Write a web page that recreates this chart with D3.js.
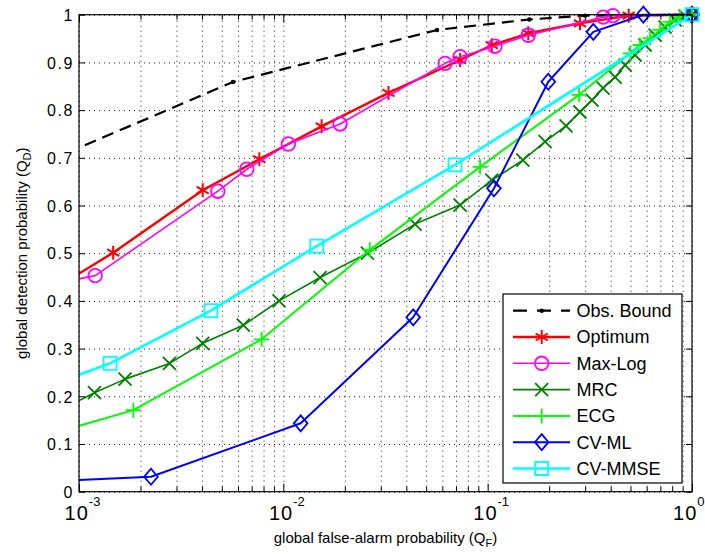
<!DOCTYPE html>
<html>
<head>
<meta charset="utf-8">
<script src="https://cdn.jsdelivr.net/npm/d3@7"></script>
<style>
  html, body { margin: 0; padding: 0; background: #fff; }
  svg { display: block; }
  text { font-family: "Liberation Sans", Arial, sans-serif; fill: #000; }
</style>
</head>
<body>
<svg id="chart" width="705" height="554"></svg>
<script>
// ---------------- data ----------------
const xDecades = [1e-3, 1e-2, 1e-1, 1];
const xExponents = ["-3", "-2", "-1", "0"];
const yTickValues = [0, 0.1, 0.2, 0.3, 0.4, 0.5, 0.6, 0.7, 0.8, 0.9, 1];
const yTickLabels = ["0", "0.1", "0.2", "0.3", "0.4", "0.5", "0.6", "0.7", "0.8", "0.9", "1"];

const seriesNames = ["Obs. Bound", "Optimum", "Max-Log", "MRC", "ECG", "CV-ML", "CV-MMSE"];

const obsQF = [0.00072, 0.00567, 0.0565, 0.16, 0.3, 1];
const obsQD = [0.695, 0.859, 0.968, 0.990, 0.998, 1];

const optQF = [0.00072, 0.00147, 0.00403, 0.00763, 0.0154, 0.0327, 0.0733, 0.1047, 0.158, 0.283, 0.49, 1];
const optQD = [0.420, 0.501, 0.632, 0.697, 0.766, 0.836, 0.905, 0.936, 0.961, 0.982, 0.998, 1];

const maxlogQF = [0.00085, 0.0012, 0.00478, 0.00662, 0.01058, 0.01895, 0.0619, 0.0733, 0.1086, 0.158, 0.368, 0.41, 1];
const maxlogQD = [0.440, 0.453, 0.630, 0.676, 0.729, 0.771, 0.898, 0.912, 0.934, 0.957, 0.995, 0.998, 1];

const mrcQF = [0.0008, 0.00119, 0.00168, 0.00277, 0.00403, 0.00637, 0.00953, 0.01513, 0.0258, 0.0441, 0.0733, 0.1047, 0.1487, 0.191, 0.2418, 0.2826, 0.3243, 0.3672, 0.4205, 0.4707, 0.5267, 0.5894, 0.6597, 0.7383, 0.8264, 0.9252, 1];
const mrcQD = [0.170, 0.2075, 0.236, 0.269, 0.311, 0.349, 0.400, 0.449, 0.500, 0.561, 0.601, 0.653, 0.695, 0.734, 0.767, 0.796, 0.821, 0.846, 0.869, 0.8945, 0.9155, 0.9365, 0.957, 0.974, 0.989, 0.997, 1];

const ecgQF = [0.0008, 0.001845, 0.00783, 0.0265, 0.0918, 0.28, 0.498, 0.557, 0.624, 0.698, 0.781, 0.873, 1];
const ecgQD = [0.126, 0.171, 0.3195, 0.507, 0.681, 0.832, 0.919, 0.9365, 0.951, 0.968, 0.985, 0.995, 1];

const cvmlQF = [0.0008, 0.00225, 0.01216, 0.0432, 0.1074, 0.198, 0.329, 0.578, 1];
const cvmlQD = [0.0226, 0.0314, 0.1434, 0.3656, 0.636, 0.8595, 0.964, 1.0, 1.0];

const cvmmseQF = [0.0008, 0.00142, 0.00442, 0.01457, 0.0692, 1];
const cvmmseQD = [0.230, 0.269, 0.3795, 0.515, 0.685, 1];

// ---------------- layout / styles ----------------
const svg = d3.select("#chart");
const L = 79, R = 692, T = 14.7, B = 491.7;

const x = d3.scaleLog().domain([1e-3, 1]).range([L, R]);
const y = d3.scaleLinear().domain([0, 1]).range([B, T]);

const styles = [
  { qf: obsQF, qd: obsQD, color: "#000000", width: 2.2, dash: "12,7", marker: "dot" },
  { qf: optQF, qd: optQD, color: "#ff0000", width: 2.4, dash: null, marker: "star" },
  { qf: maxlogQF, qd: maxlogQD, color: "#ff00ff", width: 1.6, dash: null, marker: "circle" },
  { qf: mrcQF, qd: mrcQD, color: "#008000", width: 1.6, dash: null, marker: "x" },
  { qf: ecgQF, qd: ecgQD, color: "#00ff00", width: 2, dash: null, marker: "plus" },
  { qf: cvmlQF, qd: cvmlQD, color: "#0000ff", width: 2, dash: null, marker: "diamond" },
  { qf: cvmmseQF, qd: cvmmseQD, color: "#00ffff", width: 2.6, dash: null, marker: "square" }
];

const markerPaths = {
  dot: null,
  star: (() => { const r = 7, a = r * Math.cos(Math.PI / 6), b = r * 0.5;
    return `M0,${-r}L0,${r}M${-a},${-b}L${a},${b}M${-a},${b}L${a},${-b}`; })(),
  circle: null,
  x: "M-6.5,-6.5L6.5,6.5M-6.5,6.5L6.5,-6.5",
  plus: "M-7.5,0L7.5,0M0,-7.5L0,7.5",
  diamond: "M0,-8L6.8,0L0,8L-6.8,0Z",
  square: "M-6.5,-6.5L6.5,-6.5L6.5,6.5L-6.5,6.5Z"
};

function drawMarker(g, type, color, cx, cy) {
  if (type === "dot") {
    g.append("circle").attr("cx", cx).attr("cy", cy).attr("r", 2.2).attr("fill", color);
  } else if (type === "circle") {
    g.append("circle").attr("cx", cx).attr("cy", cy).attr("r", 6.8)
      .attr("fill", "none").attr("stroke", color).attr("stroke-width", 1.8);
  } else {
    g.append("path").attr("d", markerPaths[type]).attr("transform", `translate(${cx},${cy})`)
      .attr("fill", "none").attr("stroke", color).attr("stroke-width", type === "star" ? 2 : 1.8);
  }
}

// clip
svg.append("defs").append("clipPath").attr("id", "plotclip")
  .append("rect").attr("x", L).attr("y", T - 2).attr("width", R - L).attr("height", B - T + 2);

svg.append("rect").attr("x", L).attr("y", T).attr("width", R - L).attr("height", B - T).attr("fill", "#fff");

// ---------------- grid ----------------
const minorTicks = [];
for (let e = -3; e < 0; e++) for (let k = 2; k <= 9; k++) minorTicks.push(k * Math.pow(10, e));
const allXGrid = xDecades.concat(minorTicks);

const grid = svg.append("g").attr("class", "grid");
grid.append("g").attr("transform", `translate(0,${B})`)
  .call(d3.axisBottom(x).tickValues(allXGrid).tickSize(-(B - T)).tickFormat(""))
  .call(g => g.select(".domain").remove())
  .call(g => g.selectAll("line").attr("stroke", "#222").attr("stroke-dasharray", "1,4").attr("stroke-width", 1));
grid.append("g").attr("transform", `translate(${L},0)`)
  .call(d3.axisLeft(y).tickValues(yTickValues).tickSize(-(R - L)).tickFormat(""))
  .call(g => g.select(".domain").remove())
  .call(g => g.selectAll("line").attr("stroke", "#222").attr("stroke-dasharray", "1,4").attr("stroke-width", 1));

// ---------------- series ----------------
const line = d3.line().x(d => x(d[0])).y(d => y(d[1]));
const plotG = svg.append("g");
styles.forEach(s => {
  const pts = s.qf.map((q, i) => [q, s.qd[i]]);
  plotG.append("path").datum(pts).attr("d", line).attr("clip-path", "url(#plotclip)")
    .attr("fill", "none").attr("stroke", s.color).attr("stroke-width", s.width)
    .attr("stroke-dasharray", s.dash).attr("stroke-linejoin", "round");
  const mg = plotG.append("g");
  const show = s.marker === "dot" ? pts.slice(1, -1) : pts.filter(p => p[0] >= 1e-3);
  show.forEach(p => drawMarker(mg, s.marker, s.color, x(p[0]), y(p[1])));
});

// ---------------- axes box & ticks ----------------
const axG = svg.append("g");
axG.append("rect").attr("x", L).attr("y", T).attr("width", R - L).attr("height", B - T)
  .attr("fill", "none").attr("stroke", "#000").attr("stroke-width", 1.2);

axG.append("g").attr("transform", `translate(0,${B})`)
  .call(d3.axisBottom(x).tickValues(xDecades).tickSize(-8).tickFormat(""))
  .call(g => g.select(".domain").remove());
axG.append("g").attr("transform", `translate(0,${B})`)
  .call(d3.axisBottom(x).tickValues(minorTicks).tickSize(-5).tickFormat(""))
  .call(g => g.select(".domain").remove());
axG.append("g").attr("transform", `translate(0,${T})`)
  .call(d3.axisTop(x).tickValues(xDecades).tickSize(-8).tickFormat(""))
  .call(g => g.select(".domain").remove());
axG.append("g").attr("transform", `translate(0,${T})`)
  .call(d3.axisTop(x).tickValues(minorTicks).tickSize(-5).tickFormat(""))
  .call(g => g.select(".domain").remove());
axG.append("g").attr("transform", `translate(${L},0)`)
  .call(d3.axisLeft(y).tickValues(yTickValues).tickSize(-6).tickFormat(""))
  .call(g => g.select(".domain").remove());
axG.append("g").attr("transform", `translate(${R},0)`)
  .call(d3.axisRight(y).tickValues(yTickValues).tickSize(-6).tickFormat(""))
  .call(g => g.select(".domain").remove());
axG.selectAll(".tick line").attr("stroke", "#000").attr("stroke-width", 1);

// y tick labels
const yLab = svg.append("g").attr("transform", `translate(${L},0)`)
  .call(d3.axisLeft(y).tickValues(yTickValues).tickSize(0).tickPadding(5)
    .tickFormat((d, i) => yTickLabels[i]));
yLab.select(".domain").remove();
yLab.selectAll("text").attr("font-size", 16).attr("letter-spacing", "1.6px")
  .attr("font-family", "Liberation Sans, Arial, sans-serif").attr("fill", "#000")
  .attr("dy", "0.36em");

// x tick labels with superscripts
const xLab = svg.append("g").attr("transform", `translate(0,${B})`)
  .call(d3.axisBottom(x).tickValues(xDecades).tickSize(0).tickFormat(""));
xLab.select(".domain").remove();
xLab.selectAll(".tick").each(function(d, i) {
  const last = i === xDecades.length - 1;
  const t = d3.select(this).append("text").attr("x", last ? 12 : 3).attr("y", 28)
    .attr("text-anchor", last ? "end" : "middle").attr("fill", "#000");
  t.append("tspan").attr("font-size", 20).attr("letter-spacing", "1px").text("10");
  t.append("tspan").attr("font-size", 13).attr("dy", -14).text(xExponents[i]);
});

// axis labels
const xl = svg.append("text").attr("x", (L + R) / 2).attr("y", 543)
  .attr("text-anchor", "middle").attr("font-size", 15);
xl.append("tspan").text("global false-alarm probability (Q");
xl.append("tspan").attr("font-size", 11).attr("dy", 4).text("F");
xl.append("tspan").attr("dy", -4).text(")");

const yl = svg.append("text").attr("transform", `translate(27,${(T + B) / 2}) rotate(-90)`)
  .attr("text-anchor", "middle").attr("font-size", 15);
yl.append("tspan").text("global detection probability (Q");
yl.append("tspan").attr("font-size", 11).attr("dy", 4).text("D");
yl.append("tspan").attr("dy", -4).text(")");

// ---------------- legend ----------------
const lg = svg.append("g");
lg.append("rect").attr("x", 503).attr("y", 294).attr("width", 179).attr("height", 189)
  .attr("fill", "#fff").attr("stroke", "#000").attr("stroke-width", 1.2);
styles.forEach((s, i) => {
  const cy = 310.7 + i * 26.3;
  lg.append("line").attr("x1", 513).attr("x2", 570).attr("y1", cy).attr("y2", cy)
    .attr("stroke", s.color).attr("stroke-width", s.width)
    .attr("stroke-dasharray", s.dash ? "14,10" : null);
  drawMarker(lg, s.marker, s.color, 541.7, cy);
  lg.append("text").attr("x", 576.5).attr("y", cy).attr("dy", "0.36em")
    .attr("font-size", 18).text(seriesNames[i]);
});
</script>
</body>
</html>
